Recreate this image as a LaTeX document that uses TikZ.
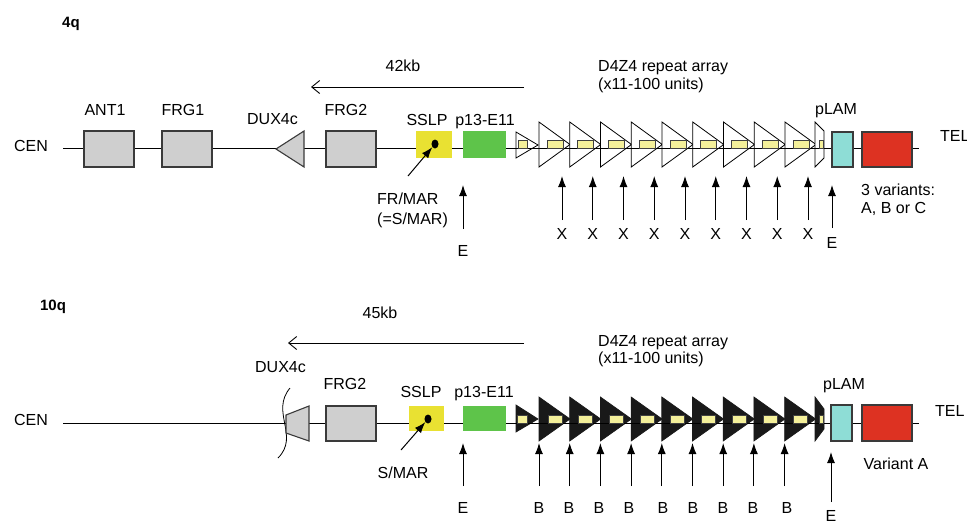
\documentclass[tikz,border=0pt]{standalone}
\usepackage{fontspec}
\setmainfont{Liberation Sans}
\usetikzlibrary{arrows.meta,shapes.geometric}
\definecolor{boxgray}{HTML}{CFCFCF}
\definecolor{edgegray}{HTML}{3A3A3A}
\definecolor{sslpyellow}{HTML}{E9E132}
\definecolor{pgreen}{HTML}{5EC44A}
\definecolor{pcyan}{HTML}{8EDDD6}
\definecolor{pred}{HTML}{DD3222}
\definecolor{paleyellow}{HTML}{F4F09A}
\begin{document}
\begin{tikzpicture}[x=1pt,y=-1pt,
  lbl/.style={font=\fontsize{16}{19}\selectfont, inner sep=0pt, text height=11.5pt, text depth=0pt},
  ttl/.style={font=\fontsize{15}{18}\selectfont\bfseries, inner sep=0pt, text height=10.8pt, text depth=0pt},
  mainline/.style={draw=black, line width=0.9pt},
  gbox/.style={draw=edgegray, fill=boxgray, line width=1.1pt, inner sep=0pt},
  flatbox/.style={fill=#1, draw=none, inner sep=0pt},
  edgebox/.style={draw=edgegray, fill=#1, line width=1.1pt, inner sep=0pt},
  wtri/.style={draw=black, fill=white, line width=0.8pt},
  btri/.style={draw=black!90, fill=black!90, line width=0.7pt},
  ylw/.style={draw=black!75, fill=paleyellow, line width=0.7pt},
  blob/.style={fill=black, ellipse, inner sep=0pt, minimum width=7pt, minimum height=9pt},
  uparr/.style={draw=black, line width=1pt, -{Latex[length=11pt,width=8pt]}},
  kbarr/.style={draw=black, line width=0.9pt, -{Straight Barb[length=8pt,width=13pt]}}
]
\useasboundingbox (0,0) rectangle (967,520);

%% ================= 4q =================
\node[ttl] (t4q) at (71,22) {4q};
\node[lbl] (kb42) at (403,66) {42kb};
\node[lbl, anchor=west] (d4z4a) at (598,66) {D4Z4 repeat array};
\node[lbl, anchor=west] (d4z4b) at (598,84) {(x11-100 units)};
\coordinate (k42r) at (524,87);
\coordinate (k42l) at (311,87);
\draw[kbarr] (k42r) -- (k42l);

% repeat triangles (behind line)
\draw[wtri] (516,132) -- (538,145) -- (516,158) -- cycle;
\foreach \k in {0,...,8}{
  \pgfmathsetmacro\s{539+30.75*\k}
  \draw[wtri] (\s,122) -- ({\s+31},144.5) -- (\s,167) -- cycle;
}
\draw[wtri] (815,122) -- (824,131) -- (824,158) -- (815,167) -- cycle;

\coordinate (l4a) at (63,148.5);
\coordinate (l4b) at (919,148.5);
\draw[mainline] (l4a) -- (l4b);

% yellow units
\draw[ylw] (518,140.5) rectangle (527,148.5);
\foreach \k in {0,...,8}{
  \pgfmathsetmacro\s{539+30.75*\k}
  \draw[ylw] ({\s+8},140.5) rectangle ({\s+24},148.5);
}
\draw[ylw] (819,140.5) rectangle (823,148.5);

\node[lbl] (cen4) at (31,145.5) {CEN};
\node[lbl, anchor=west] (tel4) at (940,136) {TEL};

\node[gbox, minimum width=50pt, minimum height=36pt] (ant1) at (109,149) {};
\node[lbl] (ant1l) at (105,109.5) {ANT1};
\node[gbox, minimum width=50pt, minimum height=36pt] (frg1) at (187,149) {};
\node[lbl] (frg1l) at (183,109.5) {FRG1};
\draw[draw=edgegray, fill=boxgray, line width=1.1pt] (276,149) -- (304,131) -- (304,167) -- cycle;
\node[lbl] (dux4l) at (272.5,118.5) {DUX4c};
\node[gbox, minimum width=50pt, minimum height=36pt] (frg2) at (351,149) {};
\node[lbl] (frg2l) at (346,110) {FRG2};

\node[flatbox=sslpyellow, minimum width=36pt, minimum height=27pt] (sslp4) at (434,144.5) {};
\node[lbl] (sslp4l) at (427,119.5) {SSLP};
\node[blob] (dot4) at (435,144) {};
\node[flatbox=pgreen, minimum width=43pt, minimum height=27pt] (p13a) at (484.5,144.5) {};
\node[lbl] (p13al) at (485,119.5) {p13-E11};

\node[edgebox=pcyan, minimum width=21pt, minimum height=35pt] (plam4) at (842.5,149.5) {};
\node[lbl] (plam4l) at (836,109) {pLAM};
\node[edgebox=pred, minimum width=50pt, minimum height=35pt] (red4) at (887,149.5) {};

\coordinate (fr4s) at (408,176);
\draw[uparr] (fr4s) -- (dot4);
\node[lbl, anchor=west] (frmar) at (377,199) {FR/MAR};
\node[lbl, anchor=west] (frmar2) at (377,218.5) {(=S/MAR)};

\coordinate (e4a) at (463,229);
\coordinate (e4b) at (463,185);
\draw[uparr] (e4a) -- (e4b);
\node[lbl] (e4l) at (463,251) {E};

\foreach \k in {0,...,8}{
  \pgfmathsetmacro\xx{562+30.75*\k}
  \coordinate (xa\k) at (\xx,220);
  \coordinate (xb\k) at (\xx,176);
  \draw[uparr] (xa\k) -- (xb\k);
  \node[lbl] (xl\k) at (\xx,234) {X};
}

\coordinate (ep4a) at (832,228);
\coordinate (ep4b) at (832,185);
\draw[uparr] (ep4a) -- (ep4b);
\node[lbl] (ep4l) at (832,242.5) {E};

\node[lbl, anchor=west] (var1) at (861,190) {3 variants:};
\node[lbl, anchor=west] (var2) at (861,207.5) {A, B or C};

%% ================= 10q =================
\node[ttl] (t10q) at (53,305.5) {10q};
\node[lbl] (kb45) at (380,313) {45kb};
\node[lbl, anchor=west] (d4z4c) at (598,341) {D4Z4 repeat array};
\node[lbl, anchor=west] (d4z4d) at (598,358) {(x11-100 units)};
\coordinate (k45r) at (524,343);
\coordinate (k45l) at (288,343);
\draw[kbarr] (k45r) -- (k45l);

\draw[btri] (516,405) -- (538,419) -- (516,432) -- cycle;
\foreach \k in {0,...,8}{
  \pgfmathsetmacro\s{539+30.7*\k}
  \draw[btri] (\s,397) -- ({\s+31},419) -- (\s,441) -- cycle;
}
\draw[btri] (815,397) -- (824,409) -- (824,429) -- (815,441) -- cycle;

\coordinate (l10a) at (63,423);
\coordinate (l10b) at (919,423);
\draw[mainline] (l10a) -- (l10b);

\draw[ylw] (517,415) rectangle (527,423);
\foreach \k in {0,...,8}{
  \pgfmathsetmacro\s{539+30.7*\k}
  \draw[ylw] ({\s+9},415) rectangle ({\s+23},423);
}
\draw[ylw] (819.5,415) rectangle (823,423);

\node[lbl] (cen10) at (31,419.5) {CEN};
\node[lbl, anchor=west] (tel10) at (935,411) {TEL};

\draw[draw=black, line width=0.8pt] (290,388) .. controls (270,412) and (300,436) .. (278,458);
\draw[draw=edgegray, fill=boxgray, line width=1.1pt] (286,415) -- (309,406) -- (309,441) -- (286,433) -- cycle;
\node[lbl] (dux10l) at (280.5,366.5) {DUX4c};
\node[gbox, minimum width=50pt, minimum height=35pt] (frg2b) at (351,423.5) {};
\node[lbl] (frg2bl) at (345,384) {FRG2};

\node[flatbox=sslpyellow, minimum width=35pt, minimum height=25pt] (sslp10) at (426.5,418.5) {};
\node[lbl] (sslp10l) at (421,392) {SSLP};
\node[blob] (dot10) at (428,419) {};
\node[flatbox=pgreen, minimum width=43pt, minimum height=25pt] (p13b) at (484.5,418.5) {};
\node[lbl] (p13bl) at (484,392) {p13-E11};

\node[edgebox=pcyan, minimum width=21pt, minimum height=36pt] (plam10) at (841.5,423) {};
\node[lbl] (plam10l) at (844,384) {pLAM};
\node[edgebox=pred, minimum width=50pt, minimum height=36pt] (red10) at (887,423) {};

\coordinate (sm10s) at (401,450);
\draw[uparr] (sm10s) -- (dot10);
\node[lbl] (smar) at (403,472.5) {S/MAR};

\coordinate (e10a) at (463,486);
\coordinate (e10b) at (463,443);
\draw[uparr] (e10a) -- (e10b);
\node[lbl] (e10l) at (463,507.5) {E};

\foreach \k/\lx in {0/539,1/569,2/599,3/629,4/663,5/693,6/723,7/753,8/787}{
  \pgfmathsetmacro\xx{539+30.7*\k}
  \coordinate (ba\k) at (\xx,486);
  \coordinate (bb\k) at (\xx,443);
  \draw[uparr] (ba\k) -- (bb\k);
  \node[lbl] (bl\k) at (\lx,507.5) {B};
}

\coordinate (ep10a) at (831,502);
\coordinate (ep10b) at (831,452);
\draw[uparr] (ep10a) -- (ep10b);
\node[lbl] (ep10l) at (831,516) {E};

\node[lbl] (vara) at (896,463.5) {Variant A};
\end{tikzpicture}
\end{document}
